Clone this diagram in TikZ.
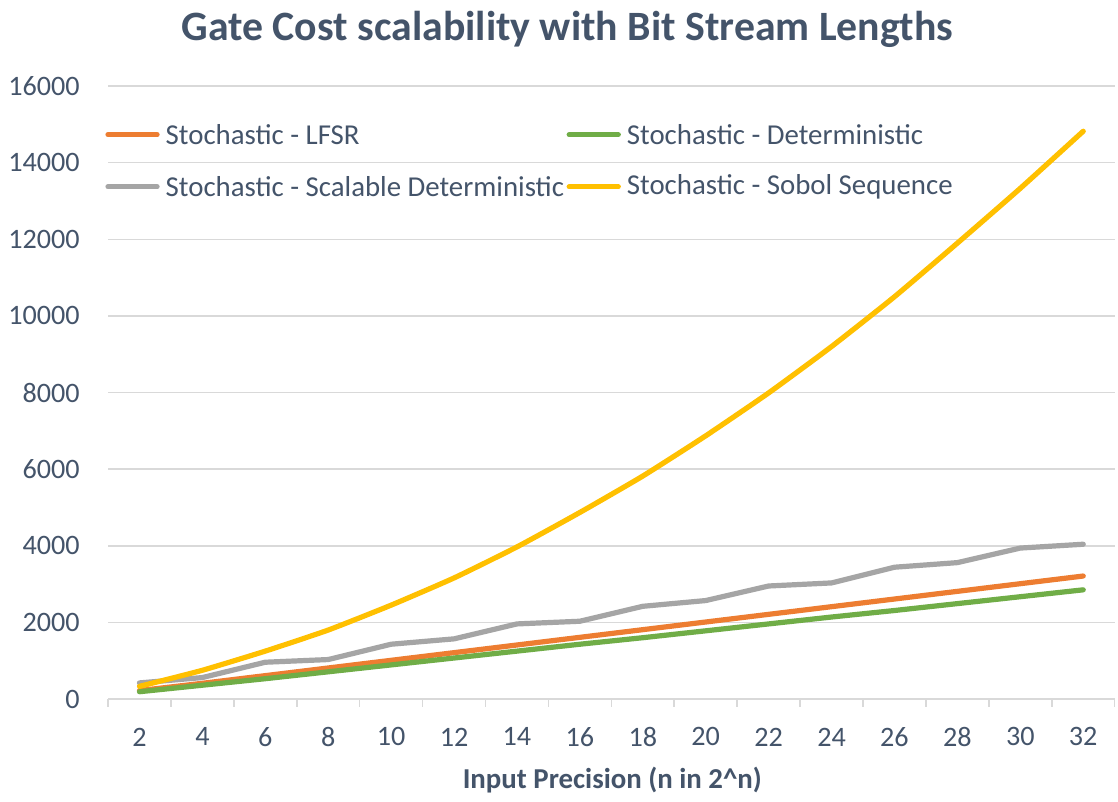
\documentclass[tikz,border=0pt]{standalone}
\usepackage{fontspec}
\setmainfont{Carlito}
\usepackage{tikz}
\definecolor{slate}{HTML}{44546A}
\definecolor{gridgray}{HTML}{D9D9D9}
\definecolor{lfsr}{HTML}{ED7D31}
\definecolor{determ}{HTML}{70AD47}
\definecolor{scaldet}{HTML}{A5A5A5}
\definecolor{sobol}{HTML}{FFC000}
\tikzset{
	gridline/.style = {draw=gridgray, line width=1.1pt},
	series/.style = {line width=3.7pt, line cap=round, line join=round}
}

\begin{document}
\begin{tikzpicture}[x=0.025cm, y=-0.025cm]
	\useasboundingbox[fill=white] (0,0) rectangle (1118,802);
	\begin{scope}[shift={(76.55,699)}, x=0.78625cm, y=0.9575cm,
		every node/.style = {text=slate, font=\fontsize{20}{24}\selectfont}]
		\foreach \v in {0,2,...,16}
			\draw[gridline] (1,\v) -- (33,\v);
		\foreach \t in {1,3,...,33}
			\draw[gridline] (\t,0) -- ++(0pt,-0.2cm);
		\foreach \v in {0,2,...,16} {
			\pgfmathtruncatemacro{\lab}{1000*\v}
			\node[anchor=east, inner sep=0pt] (y\v) at (0.11,\v) {\lab};
		}
		\foreach \n in {2,4,...,32}
			\node (x\n) at (\n,-0.99) {\n};
		\node[font=\bfseries\fontsize{20.5}{24}\selectfont] (xtitle) at (17.03,-2.11)
			{Input Precision (n in 2\textasciicircum n)};
		\node[font=\bfseries\fontsize{29.7}{34}\selectfont] (title) at (15.6,17.47)
			{Gate Cost scalability with Bit Stream Lengths};

		\draw[series, lfsr] plot coordinates {(2,0.22) (4,0.41) (6,0.61) (8,0.81) (10,1.01) (12,1.21)
			(14,1.41) (16,1.61) (18,1.81) (20,2.01) (22,2.21) (24,2.41) (26,2.61) (28,2.81) (30,3.01) (32,3.21)};
		\draw[series, determ] plot coordinates {(2,0.19) (4,0.36) (6,0.53) (8,0.71) (10,0.89) (12,1.07)
			(14,1.25) (16,1.43) (18,1.60) (20,1.78) (22,1.96) (24,2.14) (26,2.31) (28,2.49) (30,2.67) (32,2.85)};
		\draw[series, scaldet] plot coordinates {(2,0.42) (4,0.56) (6,0.96) (8,1.03) (10,1.43) (12,1.57)
			(14,1.96) (16,2.03) (18,2.42) (20,2.57) (22,2.95) (24,3.03) (26,3.44) (28,3.56) (30,3.94) (32,4.04)};
		\draw[series, sobol] plot[smooth, tension=0.3] coordinates {(2,0.33) (4,0.75) (6,1.25) (8,1.80) (10,2.45) (12,3.16)
			(14,3.97) (16,4.87) (18,5.82) (20,6.87) (22,7.99) (24,9.20) (26,10.50) (28,11.90) (30,13.33) (32,14.82)};

		\foreach \col/\lab/\x/\y/\i in {lfsr/Stochastic - LFSR/1.0/14.73/a,
				determ/Stochastic - Deterministic/15.66/14.73/b,
				scaldet/Stochastic - Scalable Deterministic/1.0/13.37/c,
				sobol/Stochastic - Sobol Sequence/15.66/13.37/d} {
			\draw[series, \col] (\x,\y) -- ++(1.56,0)
				node[anchor=west, inner sep=0pt, xshift=0.15cm, font=\fontsize{20.5}{24}\selectfont] (leg\i) {\lab};
		}
	\end{scope}
\end{tikzpicture}
\end{document}
